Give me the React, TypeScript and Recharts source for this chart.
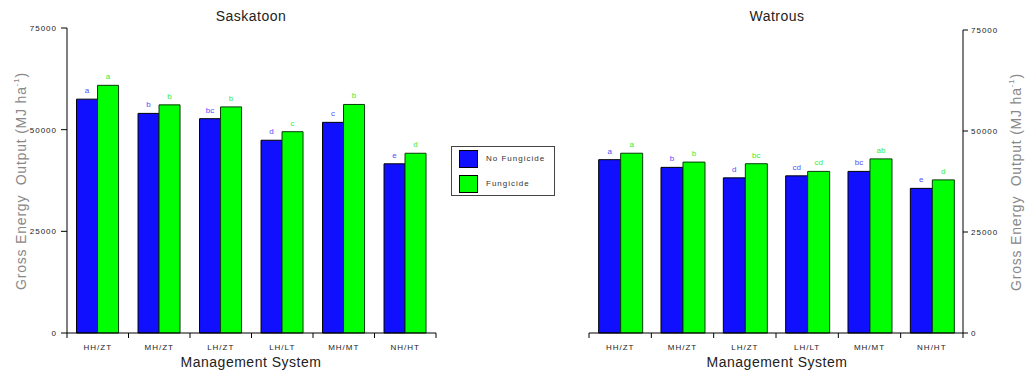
import React from 'react';
import { BarChart, Bar, XAxis, YAxis, Legend, LabelList } from 'recharts';

const categories = ['HH/ZT', 'MH/ZT', 'LH/ZT', 'LH/LT', 'MH/MT', 'NH/HT'];
const seriesNames = ['No Fungicide', 'Fungicide'];
const yTicks = [0, 25000, 50000, 75000];

// Saskatoon
const saskNoFung = [57500, 54000, 52700, 47400, 51800, 41600];
const saskFung = [60900, 56100, 55600, 49500, 56200, 44200];
const saskNoFungLetters = ['a', 'b', 'bc', 'd', 'c', 'e'];
const saskFungLetters = ['a', 'b', 'b', 'c', 'b', 'd'];

// Watrous
const watNoFung = [42900, 41000, 38400, 38900, 40000, 35800];
const watFung = [44500, 42300, 41900, 40000, 43100, 37900];
const watNoFungLetters = ['a', 'b', 'd', 'cd', 'bc', 'e'];
const watFungLetters = ['a', 'b', 'bc', 'cd', 'ab', 'd'];

const BLUE = '#1010ff';
const GREEN = '#00ff00';
const FONT = '"Liberation Sans", Arial, sans-serif';
const BORDER = '#8a8a8a';

const buildData = (nf: number[], f: number[], nfL: string[], fL: string[]) =>
  categories.map((name, i) => ({ name, nf: nf[i], f: f[i], nfL: nfL[i], fL: fL[i] }));

const saskData = buildData(saskNoFung, saskFung, saskNoFungLetters, saskFungLetters);
const watData = buildData(watNoFung, watFung, watNoFungLetters, watFungLetters);

// x ticks sit on the category boundaries, not the centres
const makeTick = (band: number) => (props: any) => {
  const { x, y, payload, index } = props;
  const left = x - band / 2;
  return (
    <g>
      <line x1={left} x2={left} y1={y} y2={y + 5} stroke="#000" />
      {index === categories.length - 1 && (
        <line x1={x + band / 2} x2={x + band / 2} y1={y} y2={y + 5} stroke="#000" />
      )}
      <text x={x} y={y + 16.5} textAnchor="middle" fontSize={8} letterSpacing={1} fill="#222" fontFamily={FONT}>
        {payload.value}
      </text>
    </g>
  );
};

const renderLegend = (props: any) => {
  const items = [...(props.payload || [])].sort(
    (a: any, b: any) => seriesNames.indexOf(a.value) - seriesNames.indexOf(b.value)
  );
  return (
    <div
      style={{
        width: 104,
        height: 50,
        border: '1px solid #444',
        background: '#fff',
        boxSizing: 'border-box',
        fontFamily: FONT,
        fontSize: 8,
        letterSpacing: 1,
        color: '#333',
        position: 'relative',
      }}
    >
      {items.map((it: any, i: number) => (
        <div key={i} style={{ position: 'absolute', left: 7, top: 3 + i * 25, height: 17, display: 'flex', alignItems: 'center' }}>
          <div style={{ width: 17, height: 16, background: it.color, border: '1px solid #000' }} />
          <span style={{ marginLeft: 8 }}>{it.value}</span>
        </div>
      ))}
    </div>
  );
};

const axisTick = { fontSize: 8, fill: '#222', fontFamily: FONT, letterSpacing: 1 };

const TitleText = ({ text, x, top, size }: { text: string; x: number; top: number; size: number }) => (
  <div
    style={{
      position: 'absolute',
      left: x - 150,
      top,
      width: 300,
      textAlign: 'center',
      fontSize: size,
      lineHeight: `${size}px`,
      fontFamily: FONT,
      letterSpacing: 0.5,
      color: '#222',
    }}
  >
    {text}
  </div>
);

const YTitle = ({ cx, cy }: { cx: number; cy: number }) => (
  <div
    style={{
      position: 'absolute',
      left: cx - 130,
      top: cy - 8,
      width: 260,
      height: 16,
      lineHeight: '16px',
      textAlign: 'center',
      transform: 'rotate(-90deg)',
      fontSize: 14,
      letterSpacing: 0.8,
      fontFamily: FONT,
      color: '#888',
      whiteSpace: 'nowrap',
    }}
  >
    Gross Energy&nbsp; Output (MJ ha<sup style={{ fontSize: 8, verticalAlign: 'top', lineHeight: '8px' }}>-1</sup>)
  </div>
);

export default function App() {
  return (
    <div style={{ position: 'absolute', left: 0, top: 0, width: 1026, height: 373, background: '#fff', overflow: 'hidden' }}>
      {/* Saskatoon */}
      <div style={{ position: 'absolute', left: 0, top: 0 }}>
        <BarChart
          width={560}
          height={373}
          data={saskData}
          margin={{ top: 28, right: 124, bottom: 10, left: 20 }}
          barCategoryGap="15.5%"
          barGap={0}
        >
          <XAxis
            dataKey="name"
            height={30}
            interval={0}
            tickLine={false}
            tickSize={0}
            tickMargin={0}
            axisLine={{ stroke: '#000' }}
            tick={makeTick(369 / 6)}
          />
          <XAxis xAxisId="top" orientation="top" dataKey="name" height={0} tick={false} tickLine={false} axisLine={{ stroke: BORDER }} />
          <YAxis
            width={47}
            domain={[0, 75000]}
            ticks={yTicks}
            interval={0}
            tickSize={6}
            tickMargin={4}
            tickLine={{ stroke: '#000' }}
            axisLine={{ stroke: '#000' }}
            tick={axisTick}
          />
          <YAxis yAxisId="right" orientation="right" width={0} tick={false} tickLine={false} axisLine={{ stroke: BORDER }} />
          <Legend
            layout="horizontal"
            verticalAlign="middle"
            align="center"
            content={renderLegend}
            wrapperStyle={{ position: 'absolute', left: 451, top: 146, width: 104, height: 50 }}
          />
          <Bar dataKey="nf" name={seriesNames[0]} fill={BLUE} stroke="#000" strokeWidth={1} isAnimationActive={false}>
            <LabelList dataKey="nfL" position="top" offset={6} fill="#5050ff" fontSize={8} fontFamily={FONT} />
          </Bar>
          <Bar dataKey="f" name={seriesNames[1]} fill={GREEN} stroke="#0a3a0a" strokeWidth={1} isAnimationActive={false}>
            <LabelList dataKey="fL" position="top" offset={6} fill="#33ee33" fontSize={8} fontFamily={FONT} />
          </Bar>
        </BarChart>
      </div>

      {/* Watrous */}
      <div style={{ position: 'absolute', left: 560, top: 0 }}>
        <BarChart
          width={466}
          height={373}
          data={watData}
          margin={{ top: 30, right: 23, bottom: 10, left: 29 }}
          barCategoryGap="15.5%"
          barGap={0}
        >
          <XAxis
            dataKey="name"
            height={30}
            interval={0}
            tickLine={false}
            tickSize={0}
            tickMargin={0}
            axisLine={{ stroke: '#000' }}
            tick={makeTick(374 / 6)}
          />
          <XAxis xAxisId="top" orientation="top" dataKey="name" height={0} tick={false} tickLine={false} axisLine={{ stroke: BORDER }} />
          <YAxis yAxisId="left" orientation="left" width={0} tick={false} tickLine={false} axisLine={{ stroke: BORDER }} />
          <YAxis
            yAxisId="main"
            orientation="right"
            width={40}
            domain={[0, 75000]}
            ticks={yTicks}
            interval={0}
            tickSize={5}
            tickMargin={3}
            tickLine={{ stroke: '#000' }}
            axisLine={{ stroke: '#000' }}
            tick={axisTick}
          />
          <Bar yAxisId="main" dataKey="nf" name={seriesNames[0]} fill={BLUE} stroke="#000" strokeWidth={1} isAnimationActive={false}>
            <LabelList dataKey="nfL" position="top" offset={6} fill="#5050ff" fontSize={8} fontFamily={FONT} />
          </Bar>
          <Bar yAxisId="main" dataKey="f" name={seriesNames[1]} fill={GREEN} stroke="#0a3a0a" strokeWidth={1} isAnimationActive={false}>
            <LabelList dataKey="fL" position="top" offset={6} fill="#33ee33" fontSize={8} fontFamily={FONT} />
          </Bar>
        </BarChart>
      </div>

      <TitleText text="Saskatoon" x={251} top={9} size={14} />
      <TitleText text="Watrous" x={777} top={9} size={14} />
      <TitleText text="Management System" x={251} top={355} size={14} />
      <TitleText text="Management System" x={777} top={355} size={14} />
      <YTitle cx={21} cy={181} />
      <YTitle cx={1016} cy={182} />
    </div>
  );
}
